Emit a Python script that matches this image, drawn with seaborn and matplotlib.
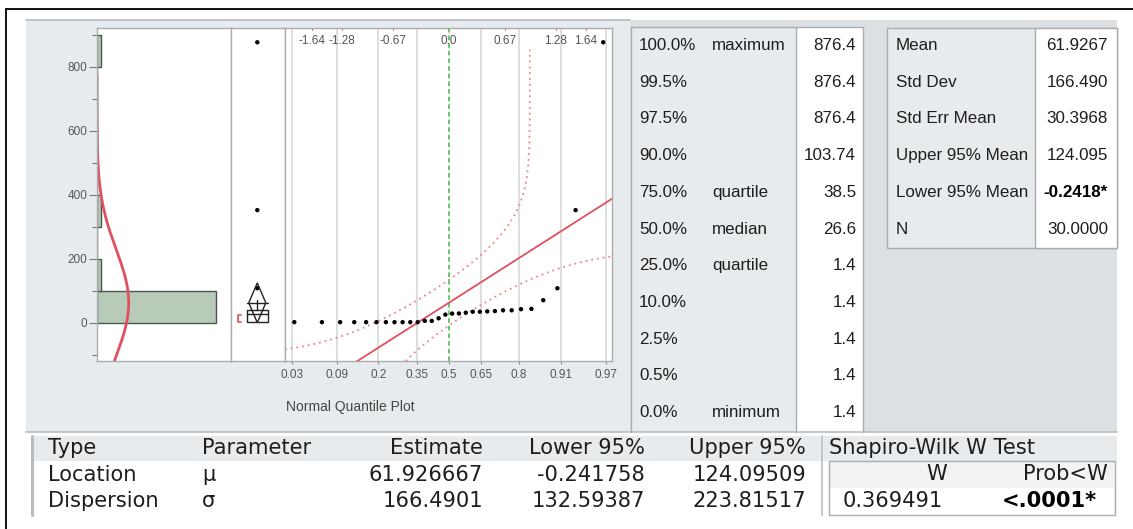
import numpy as np
import matplotlib
matplotlib.use("Agg")
import matplotlib.pyplot as plt
import seaborn as sns
from matplotlib.patches import Rectangle, Polygon
from matplotlib import font_manager
from matplotlib.textpath import TextPath
from statistics import NormalDist

# ---------------- data ----------------
values = [1.4, 1.4, 1.4, 1.4, 1.4, 1.4, 1.4, 1.4, 1.4, 1.4, 1.4,
          5.4, 5.4, 13.6, 25.0, 28.2, 28.6, 31.0, 34.0, 34.0, 35.0,
          36.0, 38.5, 38.5, 42.0, 43.0, 70.0, 107.5, 351.7, 876.4]

quantile_pct = ["100.0%", "99.5%", "97.5%", "90.0%", "75.0%", "50.0%",
                "25.0%", "10.0%", "2.5%", "0.5%", "0.0%"]
quantile_name = ["maximum", "", "", "", "quartile", "median",
                 "quartile", "", "", "", "minimum"]
quantile_val = [876.4, 876.4, 876.4, 103.74, 38.5, 26.6, 1.4, 1.4, 1.4, 1.4, 1.4]

summary_name = ["Mean", "Std Dev", "Std Err Mean", "Upper 95% Mean",
                "Lower 95% Mean", "N"]
summary_val = [61.9267, 166.490, 30.3968, 124.095, -0.2418, 30.0]
summary_dec = [4, 3, 4, 3, 4, 4]

param_type = ["Location", "Dispersion"]
param_symbol = ["μ", "σ"]
param_est = [61.926667, 166.4901]
param_lower = [-0.241758, 132.59387]
param_upper = [124.09509, 223.81517]

shapiro_w = 0.369491
shapiro_p = "<.0001*"

prob_ticks = [0.03, 0.09, 0.2, 0.35, 0.5, 0.65, 0.8, 0.91, 0.97]
z_ticks = [-1.64, -1.28, -0.67, 0.0, 0.67, 1.28, 1.64]
band_d = 0.166

# ---------------- style ----------------
sns.set_theme(style="white")


def has_font(name):
    try:
        font_manager.findfont(font_manager.FontProperties(family=name),
                              fallback_to_default=False)
        return True
    except Exception:
        return False


def width_px(s, family, size_pt, weight="normal"):
    fp = font_manager.FontProperties(family=family, size=size_pt, weight=weight)
    return TextPath((0, 0), s, prop=fp).get_extents().width * 100 / 72


def fit_size(s, family, target_px):
    return 10 * target_px / width_px(s, family, 10)


SANS = "Liberation Sans"
NARROW = "Liberation Sans Narrow" if has_font("Liberation Sans Narrow") else SANS
WIDE = "DejaVu Sans"
plt.rcParams["font.family"] = [SANS, "DejaVu Sans"]

# table font sizes chosen so that the column texts fill their cells
FS_TOP = min(fit_size("Upper 95% Mean", NARROW, 133),
             fit_size("maximum", NARROW, 76),
             fit_size("100.0%", NARROW, 56))
FS_BOT = 0.92 * fit_size("Shapiro-Wilk W Test", WIDE, 222)

W, H = 1133, 529
fig = plt.figure(figsize=(W / 100, H / 100), dpi=100)
fig.patch.set_facecolor("white")

bg = fig.add_axes([0, 0, 1, 1])
bg.set_xlim(0, W)
bg.set_ylim(H, 0)
bg.axis("off")
bg.set_zorder(0)


def rect(x0, y0, x1, y1):
    return [x0 / W, 1 - y1 / H, (x1 - x0) / W, (y1 - y0) / H]


PANEL = "#e8ebed"
DARKPANEL = "#dde0e3"
EDGE = "#a9adb1"
RED = "#e0505e"
TXT = "#1e1e1e"

# frame of the report
bg.plot([6, W], [9, 9], color="black", lw=1.3)
bg.plot([6, 6], [9, H], color="black", lw=1.3)

# plot panel
bg.add_patch(Rectangle((26, 19), 604, 413, fc=PANEL, ec="none"))
bg.plot([26, 630], [19.5, 19.5], color="#b9bdc1", lw=1.2)
bg.plot([26, 1117], [432, 432], color="#b9bdc1", lw=1.2)

# statistics panel
bg.add_patch(Rectangle((630, 20), 487, 412, fc=DARKPANEL, ec="none"))

# quantile table
bg.add_patch(Rectangle((631, 27), 232, 405, fc=PANEL, ec="none"))
bg.add_patch(Rectangle((796, 27), 67, 405, fc="white", ec="none"))
bg.plot([631, 863], [27, 27], color=EDGE, lw=1)
bg.plot([631, 631], [27, 432], color=EDGE, lw=1)
bg.plot([796, 796], [27, 432], color=EDGE, lw=1)
bg.plot([863, 863], [27, 432], color=EDGE, lw=1)

row_y0, row_dy = 45.5, 36.7
for i, (p, nm, v) in enumerate(zip(quantile_pct, quantile_name, quantile_val)):
    y = row_y0 + i * row_dy
    bg.text(639, y, p, family=NARROW, fontsize=FS_TOP, color=TXT, va="center", ha="left")
    if nm:
        bg.text(712, y, nm, family=NARROW, fontsize=FS_TOP, color=TXT, va="center", ha="left")
    bg.text(856, y, f"{v:g}", family=NARROW, fontsize=FS_TOP, color=TXT, va="center", ha="right")

# summary statistics table
bg.add_patch(Rectangle((887, 28), 230, 220, fc=PANEL, ec=EDGE, lw=1))
bg.add_patch(Rectangle((1035, 28), 82, 220, fc="white", ec=EDGE, lw=1))
for i, (nm, v, dec) in enumerate(zip(summary_name, summary_val, summary_dec)):
    y = row_y0 + i * row_dy
    bg.text(896, y, nm, family=NARROW, fontsize=FS_TOP, color=TXT, va="center", ha="left")
    s = f"{v:.{dec}f}"
    bold = v < 0
    if bold:
        s += "*"
    bg.text(1108, y, s, family=NARROW, fontsize=FS_TOP, color="black" if bold else TXT,
            va="center", ha="right", fontweight="bold" if bold else "normal")

# parameter estimates table
bg.add_patch(Rectangle((32, 436), 790, 25, fc=PANEL, ec="none"))
bg.plot([32, 32], [436, 515], color="#b9bdc1", lw=2.2)
bg.plot([822, 822], [436, 515], color="#b9bdc1", lw=1.2)
hy, ry = 448.5, [475, 501]
bg.text(48, hy, "Type", family=WIDE, fontsize=FS_BOT, color=TXT, va="center")
bg.text(202, hy, "Parameter", family=WIDE, fontsize=FS_BOT, color=TXT, va="center")
bg.text(483, hy, "Estimate", family=WIDE, fontsize=FS_BOT, color=TXT, va="center", ha="right")
bg.text(645, hy, "Lower 95%", family=WIDE, fontsize=FS_BOT, color=TXT, va="center", ha="right")
bg.text(806, hy, "Upper 95%", family=WIDE, fontsize=FS_BOT, color=TXT, va="center", ha="right")
for y, t, sym, e, lo, up in zip(ry, param_type, param_symbol, param_est, param_lower, param_upper):
    bg.text(48, y, t, family=WIDE, fontsize=FS_BOT, color=TXT, va="center")
    bg.text(202, y, sym, family=WIDE, fontsize=FS_BOT, color=TXT, va="center")
    bg.text(483, y, f"{e:.8g}", family=WIDE, fontsize=FS_BOT, color=TXT, va="center", ha="right")
    bg.text(645, y, f"{lo:.8g}", family=WIDE, fontsize=FS_BOT, color=TXT, va="center", ha="right")
    bg.text(806, y, f"{up:.8g}", family=WIDE, fontsize=FS_BOT, color=TXT, va="center", ha="right")

# Shapiro-Wilk test
bg.add_patch(Rectangle((823, 436), 294, 25, fc=PANEL, ec="none"))
bg.text(829, hy, "Shapiro-Wilk W Test", family=WIDE, fontsize=FS_BOT, color=TXT, va="center")
bg.add_patch(Rectangle((829, 461), 286, 27, fc="#f1f3f4", ec="none"))
bg.add_patch(Rectangle((829, 461), 286, 54, fc="none", ec=EDGE, lw=1))
bg.text(947, 474.5, "W", family=WIDE, fontsize=FS_BOT, color=TXT, va="center", ha="right")
bg.text(1108, 474.5, "Prob<W", family=WIDE, fontsize=FS_BOT, color=TXT, va="center", ha="right")
bg.text(843, 501, f"{shapiro_w:.6f}", family=WIDE, fontsize=FS_BOT, color=TXT, va="center")
bg.text(1097, 501, shapiro_p, family=WIDE, fontsize=FS_BOT, color="black", va="center",
        ha="right", fontweight="bold")

# ---------------- plots ----------------
mu, sigma = param_est
n = len(values)
data = np.sort(np.array(values))
YLIM = (-120, 922)
nd = NormalDist()

# histogram with fitted normal curve
hax = fig.add_axes(rect(97, 27.7, 231, 361))
hax.set_zorder(2)
bin_edges = np.arange(0, 1000, 100)
sns.histplot(y=data, bins=bin_edges, ax=hax, color="#b8cab8", edgecolor="#4d564d",
             linewidth=1.0, alpha=1.0)
yy = np.linspace(YLIM[0], 775, 400)
dens = np.array([n * 100 * NormalDist(mu, sigma).pdf(v) for v in yy])
sns.lineplot(x=dens, y=yy, sort=False, ax=hax, color=RED, lw=2.0)
hax.set_xlim(0, 30.4)
hax.set_ylim(*YLIM)
hax.set_xlabel("")
hax.set_ylabel("")
hax.set_xticks([])
hax.set_yticks([0, 200, 400, 600, 800])
hax.set_yticks(np.arange(-100, 1000, 200), minor=True)
hax.tick_params(axis="y", which="major", length=6, width=0.8, color="#777777",
                labelsize=8.5, labelcolor="#555555", pad=1, left=True)
hax.tick_params(axis="y", which="minor", length=3.5, width=0.8, color="#777777", left=True)

# outlier box plot
bax = fig.add_axes(rect(231, 27.7, 285, 361))
bax.set_zorder(2)
bax.set_xlim(0, 1)
bax.set_ylim(*YLIM)
bax.set_xticks([])
bax.set_yticks([])
q3, med, q1 = quantile_val[4], quantile_val[5], quantile_val[6]
iqr = q3 - q1
hi_fence, lo_fence = q3 + 1.5 * iqr, q1 - 1.5 * iqr
w_hi = data[data <= hi_fence].max()
w_lo = data[data >= lo_fence].min()
cx, hw = 0.487, 0.197
bax.add_patch(Rectangle((cx - hw, q1), 2 * hw, q3 - q1, fc="none", ec="#222222", lw=1))
bax.plot([cx - hw, cx + hw], [med, med], color="#222222", lw=1)
bax.plot([cx, cx], [q3, w_hi], color="#222222", lw=1)
bax.plot([cx, cx], [w_lo, q1], color="#222222", lw=1)
outliers = data[(data > hi_fence) | (data < lo_fence)]
sns.scatterplot(x=np.full(len(outliers), cx), y=outliers, ax=bax, color="black",
                s=10, edgecolor="none")
lcl, ucl = param_lower[0], param_upper[0]
bax.add_patch(Polygon([(cx, lcl), (cx - hw * 0.8, mu), (cx, ucl), (cx + hw * 0.8, mu)],
                      closed=True, fc="none", ec="#222222", lw=1))
bax.plot([cx - hw, cx + hw], [mu, mu], color="#222222", lw=1)
# shortest half bracket
h = n // 2
spans = data[h - 1:] - data[:n - h + 1]
k = int(np.argmin(spans))
sh_lo, sh_hi = data[k], data[k + h - 1]
bx = 0.13
bax.plot([bx + 0.06, bx, bx, bx + 0.06], [sh_lo, sh_lo, sh_hi, sh_hi], color=RED, lw=1.2)

# normal quantile plot
qax = fig.add_axes(rect(285, 27.7, 611.7, 361))
qax.set_zorder(2)
ZLIM = (-1.96, 1.95)
qax.set_xlim(*ZLIM)
qax.set_ylim(*YLIM)
grid_z = [nd.inv_cdf(p) for p in prob_ticks]
for gz, p in zip(grid_z, prob_ticks):
    if p != 0.5:
        qax.axvline(gz, color="#d3d5d7", lw=1.1, zorder=0)
qax.axvline(0.0, color="#3cb83c", lw=1.1, ls=(0, (3, 2)), zorder=1)
qax.set_xticks(grid_z)
qax.set_xticklabels([f"{p:g}" for p in prob_ticks])
qax.set_yticks([])
qax.tick_params(axis="x", length=2, width=0.8, color="#888888", labelsize=8.5,
                labelcolor="#555555", pad=4, bottom=True)
for zt in z_ticks:
    qax.text(zt, 1 - 0.022, f"{zt:.2f}" if zt != 0 else "0.0",
             transform=qax.get_xaxis_transform(), ha="center", va="top",
             fontsize=8.5, color="#555555")
    qax.plot([zt, zt], [1, 0.993], transform=qax.get_xaxis_transform(),
             color="#888888", lw=0.8)

# fitted line and confidence bands
zl = np.linspace(*ZLIM, 200)
sns.lineplot(x=zl, y=mu + sigma * zl, ax=qax, color=RED, lw=1.3)
pu = np.concatenate([np.linspace(nd.cdf(ZLIM[0]) + band_d, 0.995, 300),
                     np.linspace(0.995, 0.999999, 200)])
zu = np.array([nd.inv_cdf(p - band_d) for p in pu])
yu = mu + sigma * np.array([nd.inv_cdf(p) for p in pu])
qax.plot(zu, yu, color="#f0828c", lw=1.3, ls=(0, (1, 2.2)))
pl = np.concatenate([np.linspace(0.000001, 0.005, 200),
                     np.linspace(0.005, nd.cdf(ZLIM[1]) - band_d, 300)])
zlo = np.array([nd.inv_cdf(p + band_d) for p in pl])
ylo = mu + sigma * np.array([nd.inv_cdf(p) for p in pl])
qax.plot(zlo, ylo, color="#f0828c", lw=1.3, ls=(0, (1, 2.2)))

zq = [nd.inv_cdf(i / (n + 1)) for i in range(1, n + 1)]
sns.scatterplot(x=zq, y=data, ax=qax, color="black", s=10, edgecolor="none", zorder=5)

for a in (hax, bax, qax):
    a.set_facecolor("white")
    for sp in a.spines.values():
        sp.set_color(EDGE)
        sp.set_linewidth(1.0)
        sp.set_visible(True)

bg.text(286, 406.7, "Normal Quantile Plot", fontsize=10, color="#444444",
        va="center", ha="left")

fig.savefig("out.png", dpi=100, facecolor="white")
